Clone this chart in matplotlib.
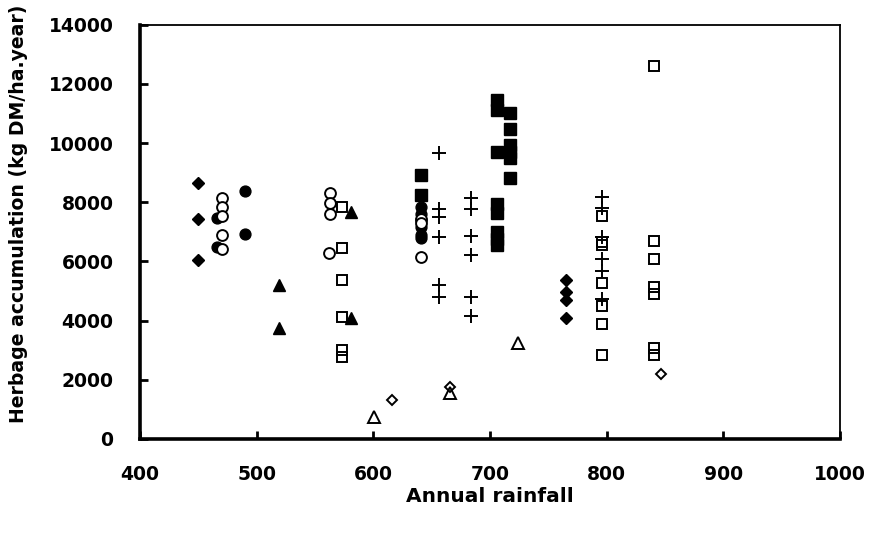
import matplotlib
matplotlib.use("Agg")
import matplotlib.pyplot as plt

plt.rcParams['font.family'] = ['DejaVu Sans']
plt.rcParams['font.weight'] = 'bold'

# Filled diamonds
fd_x = [450, 450, 450, 765, 765, 765, 765]
fd_y = [8650, 7420, 6060, 5370, 4950, 4680, 4080]
# Filled circles
fc_x = [466, 466, 490, 490, 641, 641, 641, 641, 641, 641]
fc_y = [7460, 6500, 8390, 6930, 7850, 7600, 7400, 7150, 6900, 6780]
# Open circles
oc_x = [470, 470, 470, 470, 470, 563, 563, 563, 562, 641, 641, 641]
oc_y = [8130, 7830, 7540, 6880, 6410, 8300, 7960, 7590, 6270, 7420, 7290, 6160]
# Filled triangles
ft_x = [519, 519, 581, 581]
ft_y = [5200, 3750, 7680, 4080]
# Open squares
os_x = [573, 573, 573, 573, 573, 573,
        796, 796, 796, 796, 796, 796, 796,
        841, 841, 841, 841, 841, 841, 841]
os_y = [7850, 6445, 5370, 4130, 3000, 2780,
        7550, 6670, 6550, 5260, 4500, 3890, 2840,
        12600, 6700, 6070, 5130, 4900, 3060, 2840]
# Open triangles
ot_x = [601, 666, 724]
ot_y = [750, 1570, 3230]
# Open diamonds
od_x = [616, 666, 847]
od_y = [1320, 1760, 2200]
# Plus
pl_x = [656, 656, 656, 656, 656, 656,
        684, 684, 684, 684, 684, 684,
        796, 796, 796, 796, 796, 796]
pl_y = [9660, 7760, 7510, 6820, 5200, 4810,
        8140, 7760, 6860, 6210, 4810, 4170,
        8190, 7820, 6840, 6070, 5690, 4720]
# Filled squares
fs_x = [641, 641,
        706, 706, 706, 706, 706, 706, 706, 706,
        717, 717, 717, 717, 717, 717]
fs_y = [8920, 8260,
        11450, 11100, 9710, 7950, 7640, 7000, 6760, 6550,
        11030, 10480, 9940, 9710, 9510, 8810]

fig = plt.figure(figsize=(8.7, 5.33), dpi=100)
ax = fig.add_axes([0.1609, 0.1764, 0.8046, 0.7773])

k = dict(linestyle='none', color='black')
ax.plot(fd_x, fd_y, marker='D', markersize=6.4, markerfacecolor='black', markeredgecolor='black', **k)
ax.plot(fc_x, fc_y, marker='o', markersize=7.8, markerfacecolor='black', markeredgecolor='black', **k)
ax.plot(oc_x, oc_y, marker='o', markersize=7.8, markerfacecolor='white', markeredgecolor='black', markeredgewidth=1.4, **k)
ax.plot(ft_x, ft_y, marker='^', markersize=8.2, markerfacecolor='black', markeredgecolor='black', **k)
ax.plot(os_x, os_y, marker='s', markersize=7.6, markerfacecolor='none', markeredgecolor='black', markeredgewidth=1.4, **k)
ax.plot(ot_x, ot_y, marker='^', markersize=8.2, markerfacecolor='none', markeredgecolor='black', markeredgewidth=1.4, **k)
ax.plot(od_x, od_y, marker='D', markersize=5.6, markerfacecolor='none', markeredgecolor='black', markeredgewidth=1.4, **k)
ax.plot(pl_x, pl_y, marker='+', markersize=9.5, markeredgewidth=1.4, **k)
ax.plot(fs_x, fs_y, marker='s', markersize=8.3, markerfacecolor='black', markeredgecolor='black', **k)

ax.set_xlim(400, 1000)
ax.set_ylim(0, 14000)
ax.set_xticks([400, 500, 600, 700, 800, 900, 1000])
ax.set_yticks(range(0, 14001, 2000))

for s in ['left', 'bottom']:
    ax.spines[s].set_linewidth(2.6)
for s in ['top', 'right']:
    ax.spines[s].set_linewidth(1.3)

ax.tick_params(axis='both', direction='in', length=6, width=2, labelsize=13.5)
ax.tick_params(axis='y', pad=19)
ax.tick_params(axis='x', pad=19)
for lab in ax.get_xticklabels() + ax.get_yticklabels():
    lab.set_fontweight('bold')

ax.set_xlabel('Annual rainfall', fontsize=14.5, fontweight='bold')
ax.set_ylabel('Herbage accumulation (kg DM/ha.year)', fontsize=13.6, fontweight='bold')
ax.xaxis.set_label_coords(0.5, -0.115)
ax.yaxis.set_label_coords(-0.16, 0.543)

fig.savefig('out.png', dpi=100)
